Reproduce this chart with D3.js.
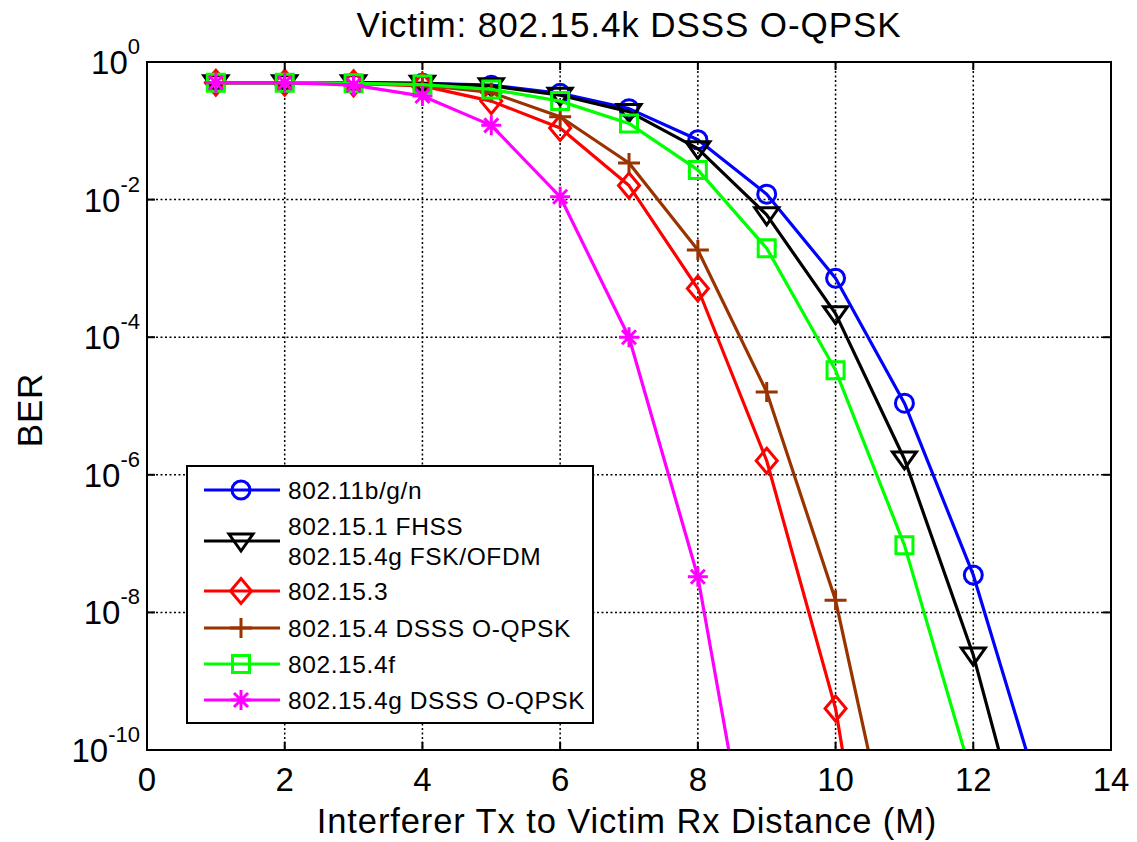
<!DOCTYPE html>
<html>
<head>
<meta charset="utf-8">
<script src="https://cdn.jsdelivr.net/npm/d3@7"></script>
<style>
  html, body { margin: 0; padding: 0; background: #fff; }
  svg { display: block; font-family: "Liberation Sans", Arial, Helvetica, sans-serif; }
</style>
</head>
<body>
<svg id="chart" width="1137" height="842"></svg>
<script>
// Interferer distance (m) and bit error rates for each interferer type
const distances = [1, 2, 3, 4, 5, 6, 7, 8, 9, 10, 11, 12, 13];

const ber80211bgn   = [0.5, 0.5, 0.5, 0.49, 0.46, 0.35, 0.21, 0.074, 0.012, 7.2e-4, 1.1e-5, 3.5e-8, 1.7e-11];
const ber802151     = [0.5, 0.5, 0.5, 0.49, 0.45, 0.33, 0.19, 0.055, 6.0e-3, 2.2e-4, 1.7e-6, 2.4e-9, 4.5e-13];
const ber802153     = [0.5, 0.5, 0.49, 0.45, 0.27, 0.11, 0.016, 5.1e-4, 1.6e-6, 4.0e-10, 4e-16];
const ber802154     = [0.5, 0.5, 0.49, 0.46, 0.36, 0.16, 0.034, 1.85e-3, 1.6e-5, 1.5e-8, 3.9e-13];
const ber802154f    = [0.5, 0.5, 0.49, 0.47, 0.40, 0.27, 0.128, 0.027, 1.96e-3, 3.3e-5, 9.5e-8, 3.5e-11];
const ber802154gDss = [0.5, 0.5, 0.46, 0.32, 0.12, 0.011, 1.0e-4, 3.3e-8, 8e-14];

const seriesLabels = [
  ["802.11b/g/n"],
  ["802.15.1 FHSS", "802.15.4g FSK/OFDM"],
  ["802.15.3"],
  ["802.15.4 DSSS O-QPSK"],
  ["802.15.4f"],
  ["802.15.4g DSSS O-QPSK"]
];
const seriesValues = [ber80211bgn, ber802151, ber802153, ber802154, ber802154f, ber802154gDss];
const seriesColors = ["#0000ff", "#000000", "#ff0000", "#993300", "#00ff00", "#ff00ff"];
const seriesMarkers = ["circle", "triangleDown", "diamond", "plus", "square", "asterisk"];

const xTicks = [0, 2, 4, 6, 8, 10, 12, 14];
const yExponents = [0, -2, -4, -6, -8, -10];

const titleText = "Victim: 802.15.4k DSSS O-QPSK";
const xLabelText = "Interferer Tx to Victim Rx Distance (M)";
const yLabelText = "BER";

// ---- layout ----
const svg = d3.select("#chart");
const plot = { left: 147, right: 1111, top: 62, bottom: 750 };

const x = d3.scaleLinear().domain([0, 14]).range([plot.left, plot.right]);
const y = d3.scaleLog().domain([1e-10, 1]).range([plot.bottom, plot.top]);

// ---- grid ----
const grid = svg.append("g").attr("stroke", "#000").attr("stroke-width", 1.5)
  .attr("stroke-dasharray", "2,2.5").attr("fill", "none");
xTicks.slice(1, -1).forEach(t => {
  grid.append("line").attr("x1", x(t)).attr("x2", x(t)).attr("y1", plot.top).attr("y2", plot.bottom);
});
yExponents.slice(1, -1).forEach(e => {
  grid.append("line").attr("x1", plot.left).attr("x2", plot.right).attr("y1", y(Math.pow(10, e))).attr("y2", y(Math.pow(10, e)));
});

// ---- data ----
svg.append("defs").append("clipPath").attr("id", "plotClip")
  .append("rect").attr("x", plot.left).attr("y", plot.top)
  .attr("width", plot.right - plot.left).attr("height", plot.bottom - plot.top);

const markerPaths = {
  triangleDown: "M-12,-7L12,-7L0,10Z",
  diamond: "M0,-12.5L10.5,0L0,12.5L-10.5,0Z",
  square: "M-8.5,-8.5L8.5,-8.5L8.5,8.5L-8.5,8.5Z",
  plus: "M-11,0L11,0M0,-10L0,10",
  asterisk: "M-10,0L10,0M0,-10L0,10M-7,-7L7,7M-7,7L7,-7"
};
function drawMarker(g, type, color, cx, cy) {
  if (type === "circle") {
    g.append("circle").attr("cx", cx).attr("cy", cy).attr("r", 9)
      .attr("fill", "none").attr("stroke", color).attr("stroke-width", 3);
  } else {
    g.append("path").attr("d", markerPaths[type]).attr("transform", `translate(${cx},${cy})`)
      .attr("fill", "none").attr("stroke", color).attr("stroke-width", 3);
  }
}

const line = d3.line().x(d => x(d[0])).y(d => y(d[1]));
const dataG = svg.append("g").attr("clip-path", "url(#plotClip)");
seriesValues.forEach((vals, i) => {
  const pts = vals.map((v, j) => [distances[j], v]);
  const g = dataG.append("g");
  g.append("path").datum(pts).attr("d", line)
    .attr("fill", "none").attr("stroke", seriesColors[i]).attr("stroke-width", 3.2)
    .attr("stroke-linejoin", "round");
  pts.forEach(p => drawMarker(g, seriesMarkers[i], seriesColors[i], x(p[0]), y(p[1])));
});

// ---- axes box and ticks ----
const axisG = svg.append("g").attr("stroke", "#000").attr("stroke-width", 2);
axisG.append("rect").attr("x", plot.left).attr("y", plot.top)
  .attr("width", plot.right - plot.left).attr("height", plot.bottom - plot.top).attr("fill", "none");
const tl = 8;
xTicks.forEach(t => {
  axisG.append("line").attr("x1", x(t)).attr("x2", x(t)).attr("y1", plot.bottom).attr("y2", plot.bottom - tl);
  axisG.append("line").attr("x1", x(t)).attr("x2", x(t)).attr("y1", plot.top).attr("y2", plot.top + tl);
});
yExponents.forEach(e => {
  const yy = y(Math.pow(10, e));
  axisG.append("line").attr("x1", plot.left).attr("x2", plot.left + tl).attr("y1", yy).attr("y2", yy);
  axisG.append("line").attr("x1", plot.right).attr("x2", plot.right - tl).attr("y1", yy).attr("y2", yy);
});

// x tick labels
svg.append("g").selectAll("text").data(xTicks).join("text")
  .attr("x", d => x(d)).attr("y", plot.bottom + 41)
  .attr("text-anchor", "middle").attr("font-size", 33).attr("fill", "#000")
  .text(d => d);

// y tick labels: 10 with a raised exponent
const yl = svg.append("g");
yExponents.forEach(e => {
  const yy = y(Math.pow(10, e));
  const t = yl.append("text").attr("x", plot.left - 7).attr("y", yy + 12)
    .attr("text-anchor", "end").attr("fill", "#000").attr("font-size", 33);
  t.append("tspan").text("10");
  t.append("tspan").attr("font-size", 22).attr("dy", -20).text(e);
});

// title and axis labels
svg.append("text").attr("x", (plot.left + plot.right) / 2).attr("y", 37)
  .attr("text-anchor", "middle").attr("font-size", 35).attr("letter-spacing", 0.9)
  .attr("fill", "#000").text(titleText);
svg.append("text").attr("x", (plot.left + plot.right) / 2 - 2).attr("y", 833)
  .attr("text-anchor", "middle").attr("font-size", 34.5).attr("letter-spacing", 0.9)
  .attr("fill", "#000").text(xLabelText);
svg.append("text").attr("transform", `translate(42,410) rotate(-90)`)
  .attr("text-anchor", "middle").attr("font-size", 35).attr("letter-spacing", 0.8)
  .attr("fill", "#000").text(yLabelText);

// ---- legend ----
const leg = { left: 187, top: 466, right: 593, bottom: 723 };
const legG = svg.append("g");
legG.append("rect").attr("x", leg.left).attr("y", leg.top)
  .attr("width", leg.right - leg.left).attr("height", leg.bottom - leg.top)
  .attr("fill", "#fff").attr("stroke", "#000").attr("stroke-width", 2);
const rowY = [490, 541, 591, 628, 664, 700];
seriesLabels.forEach((lbl, i) => {
  const cy = rowY[i];
  legG.append("line").attr("x1", 204).attr("x2", 280).attr("y1", cy).attr("y2", cy)
    .attr("stroke", seriesColors[i]).attr("stroke-width", 3.2);
  drawMarker(legG, seriesMarkers[i], seriesColors[i], 241, cy);
  const startY = cy - (lbl.length - 1) * 15;
  lbl.forEach((s, k) => {
    legG.append("text").attr("x", 288).attr("y", startY + k * 30)
      .attr("dy", "0.36em").attr("font-size", 24.5).attr("letter-spacing", 0.6)
      .attr("fill", "#000").text(s);
  });
});
</script>
</body>
</html>
